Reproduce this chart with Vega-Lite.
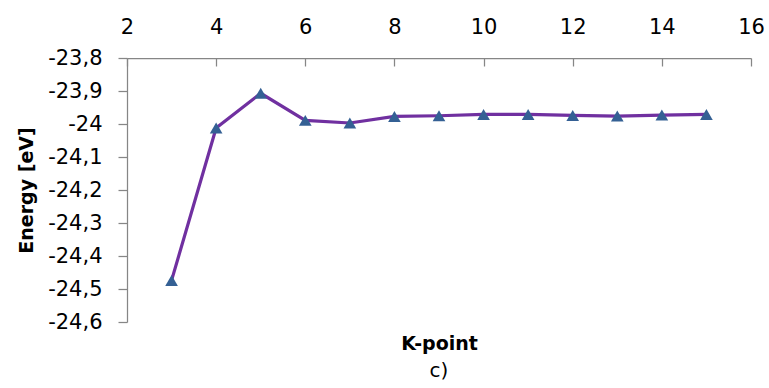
{
  "$schema": "https://vega.github.io/schema/vega-lite/v6.json",
  "autosize": "none",
  "padding": {"left": 127, "top": 58, "right": 18, "bottom": 66},
  "width": 624,
  "height": 264,
  "background": "white",
  "config": {
    "locale": {"number": {"decimal": ",", "thousands": ".", "grouping": [3], "currency": ["", ""], "minus": "-"}},
    "font": "DejaVu Sans",
    "view": {"stroke": null},
    "axis": {"grid": false, "labelFont": "DejaVu Sans", "titleFont": "DejaVu Sans", "labelColor": "#000000", "titleColor": "#000000", "domainColor": "#868686", "tickColor": "#868686", "domainWidth": 1.25, "tickWidth": 1.25, "labelOverlap": false}
  },
  "title": {"text": "c)", "orient": "bottom", "anchor": "middle", "fontWeight": "normal", "fontSize": 20, "font": "DejaVu Sans", "color": "#000000", "offset": 8},
  "data": {"values": [
    {"k": 3, "energy": -24.474},
    {"k": 4, "energy": -24.012},
    {"k": 5, "energy": -23.907},
    {"k": 6, "energy": -23.989},
    {"k": 7, "energy": -23.997},
    {"k": 8, "energy": -23.977},
    {"k": 9, "energy": -23.975},
    {"k": 10, "energy": -23.971},
    {"k": 11, "energy": -23.971},
    {"k": 12, "energy": -23.974},
    {"k": 13, "energy": -23.976},
    {"k": 14, "energy": -23.973},
    {"k": 15, "energy": -23.971}
  ]},
  "encoding": {
    "y": {"field": "energy", "type": "quantitative", "scale": {"domain": [-24.6, -23.8], "nice": false, "zero": false},
      "axis": {"values": [-24.6, -24.5, -24.4, -24.3, -24.2, -24.1, -24.0, -23.9, -23.8], "tickCount": 9, "labelOverlap": false, "format": ".1~f", "tickSize": 9, "labelPadding": 16, "labelFontSize": 21, "title": "Energy [eV]", "titleFontSize": 19, "titleFontWeight": "bold", "titlePadding": 11}}
  },
  "resolve": {"axis": {"x": "independent"}},
  "layer": [
    {
      "mark": {"type": "line", "color": "#7030A0", "strokeWidth": 3.2},
      "encoding": {
        "x": {"field": "k", "type": "quantitative", "scale": {"domain": [2, 16], "nice": false, "zero": false},
          "axis": {"orient": "top", "values": [2, 4, 6, 8, 10, 12, 14, 16], "ticks": false, "labelPadding": 21, "labelFontSize": 21, "title": null, "labelFlush": false}}
      }
    },
    {
      "mark": {"type": "point", "shape": "triangle-up", "filled": true, "color": "#346094", "opacity": 1, "size": 160},
      "encoding": {
        "x": {"field": "k", "type": "quantitative",
          "axis": {"orient": "bottom", "labels": false, "ticks": false, "domain": false, "title": "K-point", "titleFontSize": 19, "titleFontWeight": "bold", "titlePadding": 12}}
      }
    },
    {
      "mark": {"type": "point", "opacity": 0},
      "encoding": {
        "x": {"field": "k", "type": "quantitative",
          "axis": {"orient": "top", "values": [2, 4, 6, 8, 10, 12, 14, 16], "labels": false, "domain": false, "ticks": true, "tickSize": 8, "offset": -8, "title": null}}
      }
    }
  ]
}
